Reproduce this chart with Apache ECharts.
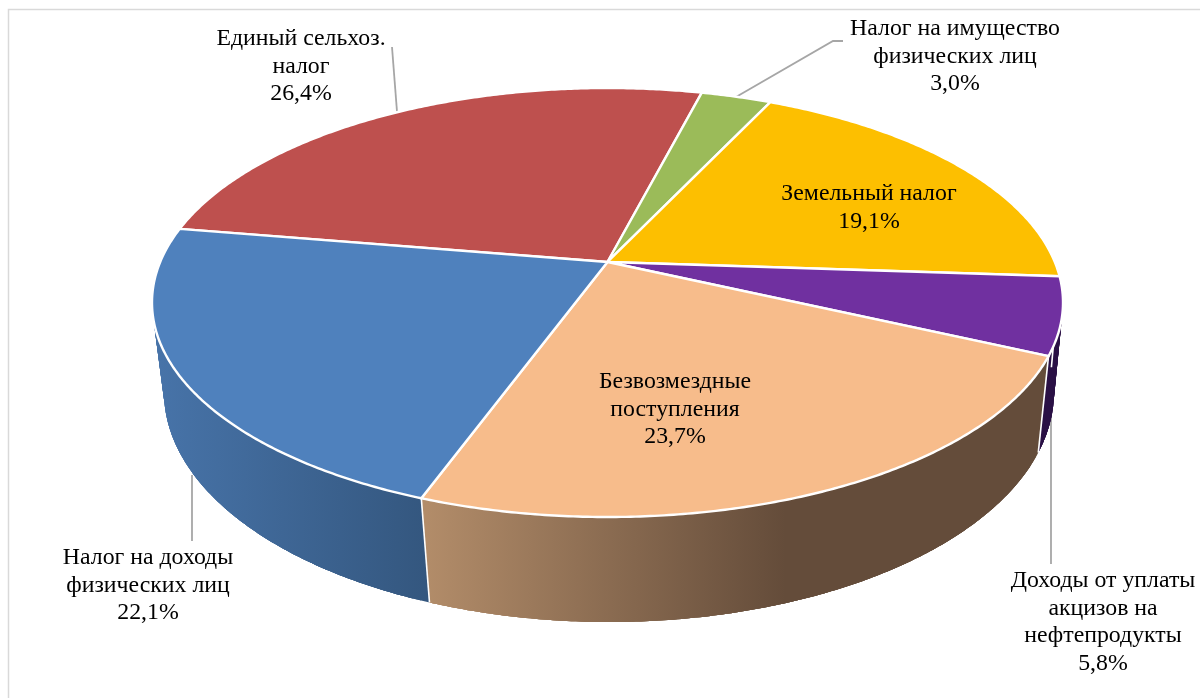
<!DOCTYPE html>
<html><head><meta charset="utf-8">
<style>html,body{margin:0;padding:0;background:#fff}#c{width:1200px;height:698px}</style>
<script src="https://cdn.jsdelivr.net/npm/echarts@6/dist/echarts.min.js"></script>
</head><body><div id="c"></div>
<script>
// Data (clockwise from the red slice)
const categories = [
  ['Единый сельхоз.', 'налог'],
  ['Налог на имущество', 'физических лиц'],
  ['Земельный налог'],
  ['Доходы от уплаты', 'акцизов на', 'нефтепродукты'],
  ['Безвозмездные', 'поступления'],
  ['Налог на доходы', 'физических лиц']
];
const shares = [26.4, 3.0, 19.1, 5.8, 23.7, 22.1];
const percentLabels = ['26,4%', '3,0%', '19,1%', '5,8%', '23,7%', '22,1%'];

// Style and layout
const topColors = ['#BE504E', '#9BBB59', '#FDBF00', '#7030A0', '#F7BC8B', '#4F81BD'];
const wallGradients = [null, null, null,
  [[0, '#2A1045'], [1, '#2A1045']],
  [[427, '#B28C69'], [785, '#644C3A']],
  [[160, '#4773A8'], [425, '#34577F']]];
const labelCenters = [[301, 39], [955, 29], [869, 194], [1103, 581], [675, 382], [148, 558]];
const leaderPaths = [[[392, 47]], [[843, 41], [833, 41]], null, [[1051, 564]], null, [[192, 541]]];
const leaderOnWall = [false, false, false, true, false, true];
const LINE_H = 27.6, FONT = 23.8;
const START = 279.5;
const TOP = {cx: 607.5, cy: 302.5, a: 455.5, b: 214.5, v0: -0.189};
const BOT = {cx: 609, cy: 392, a: 445, b: 230, v0: -0.175};

const total = shares.reduce((s, v) => s + v, 0);
const angles = [];
shares.reduce((acc, v) => { angles.push([acc, acc + v / total * 360]); return acc + v / total * 360; }, START);

// A projective view of a disc: radii stay straight and meet at the apex, off the ellipse centre.
function project(deg, e) {
  const t = deg * Math.PI / 180, X = Math.sin(t), Y = -Math.cos(t);
  const d = 1 + e.v0 * Y;
  return [e.cx + e.a * X * Math.sqrt(1 - e.v0 * e.v0) / d, e.cy + e.b * (Y + e.v0) / d];
}
function apex(e) { return [e.cx, e.cy + e.b * e.v0]; }
function arc(a0, a1, e, step) {
  const n = Math.max(2, Math.ceil((a1 - a0) / step)), pts = [];
  for (let i = 0; i <= n; i++) pts.push(project(a0 + (a1 - a0) * i / n, e));
  return pts;
}
function globalGradient(stops) {
  const x0 = stops[0][0], x1 = stops[1][0];
  return {type: 'linear', global: true, x: x0, y: 0, x2: x1, y2: 0,
    colorStops: [{offset: 0, color: stops[0][1]}, {offset: 1, color: stops[1][1]}]};
}

const seriesData = shares.map((v, i) => ({value: v, name: categories[i].join(' ')}));

function renderLeader(params) {
  const i = params.dataIndex;
  if (!leaderPaths[i]) return {type: 'group', children: []};
  const mid = (angles[i][0] + angles[i][1]) / 2;
  const start = project(mid, leaderOnWall[i] ? BOT : TOP);
  const pts = leaderOnWall[i] ? [[leaderPaths[i][0][0], start[1]]].concat(leaderPaths[i]) : [start].concat(leaderPaths[i].slice().reverse());
  return {type: 'polyline', shape: {points: pts}, style: {stroke: '#A6A6A6', lineWidth: 1.8, fill: null}};
}
function renderWall(params) {
  const i = params.dataIndex;
  if (!wallGradients[i]) return {type: 'group', children: []};
  const [a0, a1] = angles[i];
  const T = arc(a0, a1, TOP, 0.5), B = arc(a0, a1, BOT, 0.5), fill = globalGradient(wallGradients[i]);
  const children = [], SPAN = 8;
  // Overlapping strips, so the seams between them stay fully covered.
  for (let k = 0; k < T.length - 1; k += 2) {
    const e = Math.min(k + SPAN, T.length - 1);
    children.push({type: 'polygon', shape: {points: T.slice(k, e + 1).concat(B.slice(k, e + 1).reverse())},
      style: {fill: fill}});
  }
  children.push({type: 'line', shape: {x1: T[0][0], y1: T[0][1], x2: B[0][0], y2: B[0][1]},
    style: {stroke: '#fff', lineWidth: 1.6}});
  return {type: 'group', children: children};
}
function renderTop(params) {
  const i = params.dataIndex, [a0, a1] = angles[i];
  return {type: 'polygon', shape: {points: [apex(TOP)].concat(arc(a0, a1, TOP, 0.5))},
    style: {fill: topColors[i], stroke: '#fff', lineWidth: 2.4, lineJoin: 'round'}};
}
function renderLabel(params) {
  const i = params.dataIndex, lines = categories[i].concat([percentLabels[i]]);
  return {type: 'group', children: lines.map((t, k) => ({type: 'text', style: {
    x: labelCenters[i][0], y: labelCenters[i][1] + k * LINE_H, text: t, fill: '#000',
    font: FONT + 'px "Liberation Serif"', align: 'center', verticalAlign: 'middle'}}))};
}
const custom = (renderItem, z) => ({type: 'custom', coordinateSystem: 'none', renderItem: renderItem, data: seriesData, z: z, silent: true, clip: false});

const chart = echarts.init(document.getElementById('c'), null, {width: 1200, height: 698});
chart.setOption({
  backgroundColor: '#fff', animation: false,
  graphic: [{type: 'rect', z: 0, shape: {x: 8.5, y: 9.5, width: 1300, height: 800}, style: {fill: null, stroke: '#D9D9D9', lineWidth: 1.5}}],
  series: [custom(renderLeader, 1), custom(renderWall, 2), custom(renderTop, 3), custom(renderLabel, 4)]
});
</script></body></html>
